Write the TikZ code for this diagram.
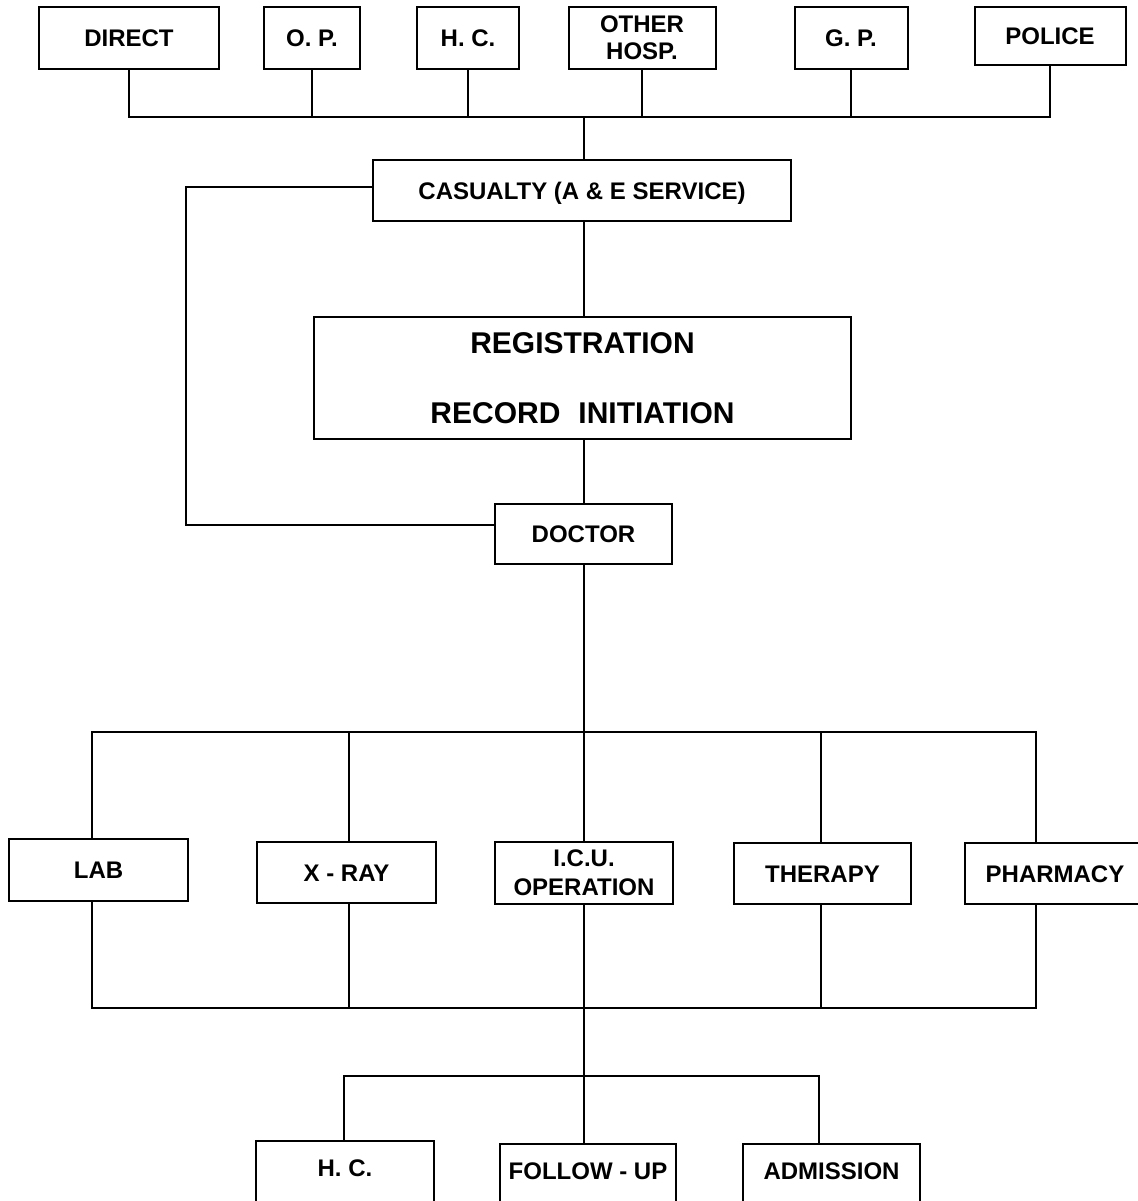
\documentclass[tikz,border=0pt]{standalone}
\usepackage{fontspec}
\setmainfont{Liberation Sans}
\begin{document}
\begin{tikzpicture}[x=1pt,y=-1pt,
  line width=2pt, line join=miter,
  every node/.style={font=\fontsize{24}{28}\selectfont\bfseries},
  box/.style={draw, line width=2pt, inner sep=0pt},
  oneline/.style={box, text height=17.2pt, text depth=0pt},
  twoline/.style={box, align=center},
  cutbox/.style={box, anchor=north, minimum height=80, text height=17.2pt, text depth=26pt}]

\fill[white] (0,0) rectangle (1137,1201);
\useasboundingbox (0,0) rectangle (1137,1201);

% referral sources
\node[oneline, minimum width=180, minimum height=62] (direct) at (129,38) {DIRECT};
\node[oneline, minimum width=96,  minimum height=62] (op)     at (312,38) {O. P.};
\node[oneline, minimum width=102, minimum height=62] (hc)     at (468,38) {H. C.};
\node[twoline, minimum width=147, minimum height=62,
      font=\fontsize{24}{27}\selectfont\bfseries]   (other)  at (642,38) {OTHER\\HOSP.};
\node[oneline, minimum width=113, minimum height=62] (gp)     at (851,38) {G. P.};
\node[oneline, minimum width=151, minimum height=58] (police) at (1050,36) {POLICE};

% central chain
\node[oneline, minimum width=418, minimum height=61] (casualty) at (582,190.5) {CASUALTY (A \& E SERVICE)};
\node[twoline, minimum width=537, minimum height=122,
      font=\fontsize{30}{34}\selectfont\bfseries] (reg) at (582.5,378)
      {REGISTRATION\\[36pt]RECORD\hspace{0.6em}INITIATION};
\node[oneline, minimum width=177, minimum height=60] (doctor) at (583.5,534) {DOCTOR};

% services
\node[oneline, minimum width=179, minimum height=62] (lab)     at (98.5,870)  {LAB};
\node[oneline, minimum width=179, minimum height=61] (xray)    at (346.5,872.5) {X - RAY};
\node[twoline, minimum width=178, minimum height=62,
      font=\fontsize{24}{29}\selectfont\bfseries]   (icu)     at (584,873) {I.C.U.\\OPERATION};
\node[oneline, minimum width=177, minimum height=61] (therapy) at (822.5,873.5) {THERAPY};
\node[oneline, minimum width=180, minimum height=61] (pharm)   at (1055,873.5) {PHARMACY};

% outcomes
\node[cutbox, minimum width=178] (hc2)    at (345,1140)   {H. C.};
\node[cutbox, minimum width=176] (follow) at (588,1143)   {FOLLOW - UP};
\node[cutbox, minimum width=177] (adm)    at (831.5,1143) {ADMISSION};

% junction points
\coordinate (tb) at (584,117);
\coordinate (mb) at (584,732);
\coordinate (bb) at (584,1008);
\coordinate (m1) at (92,732);
\coordinate (m2) at (349,732);
\coordinate (m4) at (821,732);
\coordinate (m5) at (1036,732);
\coordinate (l1) at (344,1076);
\coordinate (l3) at (819,1076);
\coordinate (loopA) at (186,187);
\coordinate (loopB) at (186,525);

% top collector
\draw (direct.south) -- (direct.south |- tb) -- (police.south |- tb) -- (police.south);
\foreach \n in {op,hc,other,gp}
  \draw (\n.south) -- (\n.south |- tb);
\draw (tb) -- (tb |- casualty.north);

% main axis
\draw (tb |- casualty.south) -- (tb |- reg.north);
\draw (tb |- reg.south) -- (tb |- doctor.north);
\draw (tb |- doctor.south) -- (mb);
\draw (casualty.west |- loopA) -- (loopA) -- (loopB) -- (doctor.west |- loopB);

% distribution to services
\draw (m1 |- lab.north) -- (m1) -- (m5) -- (m5 |- pharm.north);
\draw (m2) -- (m2 |- xray.north);
\draw (mb) -- (mb |- icu.north);
\draw (m4) -- (m4 |- therapy.north);

% collection from services
\draw (m1 |- lab.south) -- (m1 |- bb) -- (m5 |- bb) -- (m5 |- pharm.south);
\draw (m2 |- xray.south) -- (m2 |- bb);
\draw (m4 |- therapy.south) -- (m4 |- bb);
\draw (mb |- icu.south) -- (mb |- follow.north);

% outcomes
\draw (l1 |- hc2.north) -- (l1) -- (l3) -- (l3 |- adm.north);

\end{tikzpicture}
\end{document}
